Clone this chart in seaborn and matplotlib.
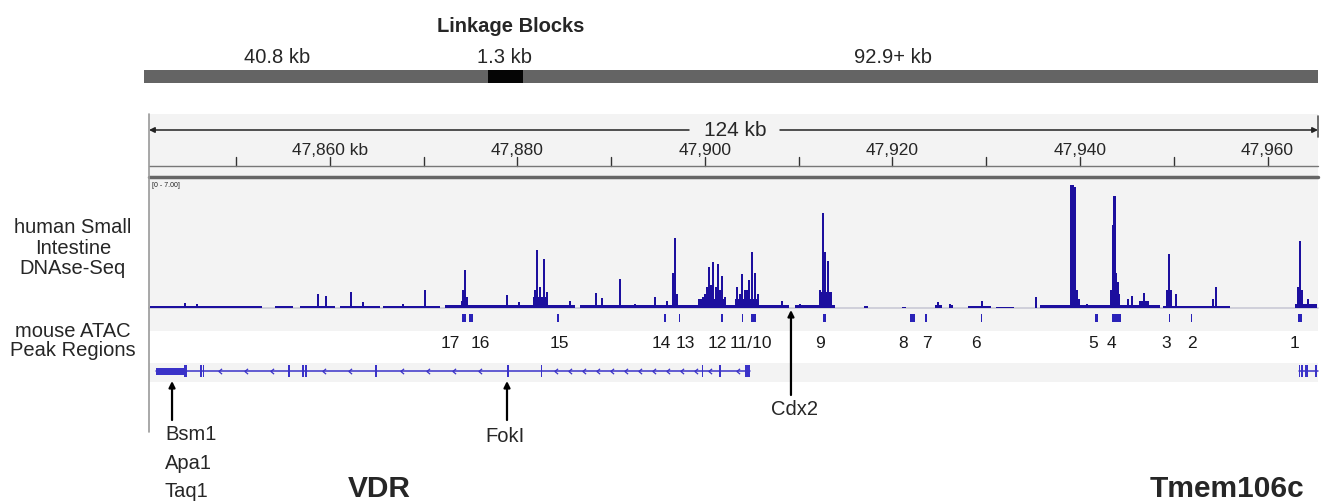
import numpy as np
import pandas as pd
import matplotlib
matplotlib.use("Agg")
import matplotlib.pyplot as plt
import seaborn as sns
from matplotlib.patches import Rectangle
from matplotlib.path import Path

# ---------------- data (genomic positions in kb) ----------------
ruler_ticks = [47850, 47860, 47870, 47880, 47890, 47900, 47910, 47920, 47930, 47940, 47950, 47960]
ruler_labeled = [47860, 47880, 47900, 47920, 47940, 47960]
ruler_labels = ["47,860 kb", "47,880", "47,900", "47,920", "47,940", "47,960"]
span_label = "124 kb"
view_start, view_end = 47840.7, 47965.4

link_start = [47840.2, 47876.85, 47880.6]
link_end = [47876.85, 47880.6, 47965.4]
link_color = ["#646464", "#050505", "#646464"]
link_labels = ["40.8 kb", "1.3 kb", "92.9+ kb"]
link_label_kb = [47854.35, 47878.6, 47920.05]

# DNase-seq signal: peak spikes
sig_kb = [47844.53, 47845.81, 47858.72, 47859.57, 47862.24, 47863.52, 47867.79, 47870.13,
          47874.19, 47874.40, 47874.61, 47878.88, 47880.16, 47881.87, 47882.08, 47882.40,
          47882.83, 47883.15, 47885.60, 47888.37, 47889.01, 47890.93, 47892.53, 47894.67,
          47895.95, 47896.59, 47896.80, 47897.01, 47899.79, 47900.00, 47900.21, 47900.43,
          47900.64, 47900.85, 47901.17, 47901.39, 47901.60, 47901.81, 47902.13, 47903.41,
          47903.73, 47903.95, 47904.27, 47904.48, 47904.69, 47905.01, 47905.33, 47905.65,
          47908.21, 47910.13, 47912.27, 47912.59, 47912.80, 47913.12, 47913.44, 47924.85,
          47926.13, 47929.55, 47935.31, 47939.04, 47939.25, 47939.47, 47939.68, 47939.89,
          47940.75, 47943.31, 47943.52, 47943.68, 47943.84, 47944.05, 47945.12, 47945.55,
          47946.40, 47946.83, 47947.25, 47949.28, 47949.49, 47949.71, 47950.24, 47954.19,
          47954.51, 47963.25, 47963.47, 47963.68, 47964.32]
sig_val = [0.25, 0.2, 0.8, 0.65, 0.9, 0.3, 0.2, 1.0,
           1.0, 2.15, 0.6, 0.7, 0.3, 1.0, 3.3, 1.2,
           2.8, 0.9, 0.4, 0.85, 0.55, 1.65, 0.2, 0.6,
           0.35, 2.0, 4.0, 0.8, 0.6, 0.8, 1.2, 2.3,
           1.3, 2.6, 1.2, 2.5, 1.0, 1.8, 0.6, 1.15,
           0.8, 1.9, 1.0, 1.0, 1.6, 3.2, 2.0, 0.8,
           0.35, 0.2, 1.0, 5.4, 3.2, 2.65, 0.8, 0.3,
           0.2, 0.35, 0.6, 7.0, 7.0, 6.9, 1.0, 0.5,
           0.2, 1.0, 4.7, 6.4, 2.0, 1.45, 0.5, 0.65,
           0.4, 0.85, 0.4, 1.0, 3.05, 1.0, 0.8, 0.5,
           1.15, 1.2, 3.8, 1.0, 0.5]
# DNase-seq signal: low background segments
base_start = [47840.8, 47854.1, 47856.8, 47861.1, 47865.6, 47872.3, 47886.7, 47909.6,
              47917.0, 47921.0, 47924.5, 47926.0, 47928.0, 47931.0, 47935.7, 47948.8,
              47962.9, 47899.3, 47903.2, 47912.3, 47939.2, 47943.2, 47881.7, 47874.0,
              47946.4, 47896.5]
base_end = [47852.7, 47856.0, 47860.5, 47865.3, 47871.7, 47886.1, 47909.0, 47913.9,
            47917.4, 47921.4, 47925.3, 47926.4, 47930.5, 47933.0, 47948.5, 47956.0,
            47965.3, 47902.2, 47905.7, 47913.5, 47940.0, 47944.3, 47883.2, 47874.7,
            47947.2, 47897.1]
base_val = [0.10, 0.07, 0.08, 0.10, 0.07, 0.12, 0.15, 0.12,
            0.07, 0.05, 0.12, 0.12, 0.10, 0.05, 0.12, 0.08,
            0.18, 0.5, 0.5, 0.9, 0.5, 0.8, 0.6, 0.4,
            0.35, 0.5]

# mouse ATAC peak regions
atac_start = [47874.1, 47874.8, 47884.25, 47895.6, 47897.2, 47901.75, 47903.9, 47904.9,
              47912.6, 47921.9, 47923.5, 47929.4, 47941.65, 47943.4, 47949.45, 47951.8, 47963.25]
atac_end = [47874.5, 47875.3, 47884.4, 47895.8, 47897.35, 47901.9, 47904.05, 47905.45,
            47912.9, 47922.35, 47923.65, 47929.55, 47941.9, 47944.4, 47949.6, 47951.95, 47963.7]
atac_labels = ["17", "16", "15", "14", "13", "12", "11/10", "9", "8", "7", "6", "5", "4", "3", "2", "1"]
atac_label_kb = [47872.8, 47876.0, 47884.5, 47895.3, 47897.9, 47901.3, 47904.9, 47912.3,
                 47921.1, 47923.7, 47928.9, 47941.4, 47943.4, 47949.2, 47951.9, 47962.9]

# genes
vdr_start, vdr_end = 47841.44, 47904.8
vdr_exon_start = [47841.44, 47844.43, 47846.18, 47846.43, 47855.56, 47857.05, 47857.37, 47864.84,
                  47878.92, 47882.49, 47899.66, 47901.54, 47904.3]
vdr_exon_end = [47844.43, 47844.75, 47846.34, 47846.59, 47855.72, 47857.21, 47857.53, 47865.0,
                47879.08, 47882.65, 47899.82, 47901.7, 47904.8]
vdr_exon_kind = ["utr", "cds", "cds", "cds", "cds", "cds", "cds", "cds",
                 "cds", "cds", "cds", "cds", "cds"]
tmem_start, tmem_end = 47963.35, 47965.35
tmem_exon_start = [47963.35, 47963.62, 47963.95, 47965.1]
tmem_exon_end = [47963.5, 47963.77, 47964.35, 47965.3]

snp_names = ["Bsm1", "FokI", "Cdx2"]
snp_kb = [47843.15, 47878.88, 47909.17]
extra_snps = ["Apa1", "Taq1"]
track_names = [["human Small", "Intestine", "DNAse-Seq"], ["mouse ATAC", "Peak Regions"]]
gene_names = ["VDR", "Tmem106c"]
signal_range_label = "[0 - 7.00]"

# ---------------- style ----------------
sns.set_theme(style="white")
plt.rcParams["font.family"] = ["Liberation Sans", "DejaVu Sans"]

W, H = 1323, 502
PX_KB = 9.375  # pixels per kb in the view


def KB(px):
    return 47860 + (px - 330) / PX_KB


NAVY = "#1c0f9e"
GENE = "#3a32c8"
BAND = "#f3f3f3"

fig = plt.figure(figsize=(W / 100, H / 100), dpi=100, facecolor="white")
ax = fig.add_axes([0, 0, 1, 1])
ax.set_xlim(KB(0), KB(W))
ax.set_ylim(H, 0)
ax.axis("off")

xl, xr = KB(149), KB(1318)

# background bands
for y0, y1, c in [(115, 332, BAND), (364, 383, BAND)]:
    ax.add_patch(Rectangle((xl, y0), xr - xl, y1 - y0, color=c, lw=0, zorder=0))

# ---- linkage blocks ----
ax.text(KB(511), 31.5, "Linkage Blocks", ha="center", va="baseline", fontsize=14.5, fontweight="bold")
for s, e, c in zip(link_start, link_end, link_color):
    ax.add_patch(Rectangle((s, 71), e - s, 13, color=c, lw=0, zorder=2))
for lab, k in zip(link_labels, link_label_kb):
    ax.text(k, 63, lab, ha="center", va="baseline", fontsize=14.5)

# ---- ruler ----
ax.text(KB(735), 136, span_label, ha="center", va="baseline", fontsize=15)
ax.annotate("", xy=(xl, 131), xytext=(KB(689), 131),
            arrowprops=dict(arrowstyle="-|>", color="#222222", lw=1.1, mutation_scale=8,
                            shrinkA=0, shrinkB=0))
ax.annotate("", xy=(xr, 131), xytext=(KB(780), 131),
            arrowprops=dict(arrowstyle="-|>", color="#222222", lw=1.1, mutation_scale=8,
                            shrinkA=0, shrinkB=0))
ax.plot([xr, xr], [117, 138], color="#555555", lw=1.2)
for t in ruler_ticks:
    ax.plot([t, t], [158, 167], color="#333333", lw=1)
for t, lab in zip(ruler_labeled, ruler_labels):
    ax.text(t, 155, lab, ha="center", va="baseline", fontsize=12.5)
ax.plot([xl, xr], [167, 167], color="#777777", lw=1)
ax.plot([xl, xr], [177.5, 177.5], color="#666666", lw=2.5)
ax.plot([xl, xl], [115, 433], color="#9a9a9a", lw=1.2)

# ---- signal track ----
ax.text(KB(152), 185.5, signal_range_label, ha="left", va="center", fontsize=5, color="#222222")
ax.plot([xl, xr], [308.5, 308.5], color="#c9c9d6", lw=1.2, zorder=1)
axs = fig.add_axes([149 / W, 1 - 308.5 / H, (1318 - 149) / W, (308.5 - 186) / H])
axs.patch.set_alpha(0)
axs.set_xlim(xl, xr)
axs.set_ylim(0, 7)
axs.axis("off")
base = pd.DataFrame({"start": base_start, "end": base_end, "val": base_val})
axs.bar(base["start"], base["val"], width=base["end"] - base["start"], align="edge",
        color=NAVY, lw=0)
sig = pd.DataFrame({"kb": sig_kb, "val": sig_val})
axs.bar(sig["kb"], sig["val"], width=0.3, color=NAVY, lw=0)

# ---- ATAC peaks ----
for s, e in zip(atac_start, atac_end):
    ax.add_patch(Rectangle((s, 315), max(e - s, 0.14), 8, color="#2a22b8", lw=0, zorder=3))
for lab, k in zip(atac_labels, atac_label_kb):
    ax.text(k, 348, lab, ha="center", va="baseline", fontsize=12.5, color="#1a1a1a")

# ---- genes ----
sns.lineplot(x=[vdr_start, vdr_end], y=[372, 372], ax=ax, color=GENE, lw=1.1)
sns.lineplot(x=[tmem_start, tmem_end], y=[372, 372], ax=ax, color=GENE, lw=1.1)
for s, e, kind in zip(vdr_exon_start, vdr_exon_end, vdr_exon_kind):
    y0, h = (369, 7) if kind == "utr" else (366, 12)
    ax.add_patch(Rectangle((s, y0), e - s, h, color=GENE, lw=0, zorder=3))
for s, e in zip(tmem_exon_start, tmem_exon_end):
    ax.add_patch(Rectangle((s, 366), e - s, 12, color=GENE, lw=0, zorder=3))

chev = Path([(0.6, 1.0), (-0.6, 0.0), (0.6, -1.0)], [Path.MOVETO, Path.LINETO, Path.LINETO])
chev_pos = list(np.arange(KB(220), KB(530), 26 / PX_KB)) + list(np.arange(KB(556), KB(740), 14 / PX_KB))
chev_pos = [c for c in chev_pos
            if min(abs(c - (s + e) / 2) for s, e in zip(vdr_exon_start, vdr_exon_end)) > 0.6]
ax.plot(chev_pos, [372] * len(chev_pos), ls="none", marker=chev, ms=3.8, mew=0.9,
        mec=GENE, mfc="none")

# ---- SNP arrows and labels ----
arrow_kw = dict(arrowstyle="-|>", color="black", lw=1.6, mutation_scale=9, shrinkA=0, shrinkB=0)
ax.annotate("", xy=(snp_kb[0], 382), xytext=(snp_kb[0], 421), arrowprops=arrow_kw)
ax.annotate("", xy=(snp_kb[1], 382), xytext=(snp_kb[1], 421), arrowprops=arrow_kw)
ax.annotate("", xy=(snp_kb[2], 311), xytext=(snp_kb[2], 396), arrowprops=arrow_kw)
ax.text(KB(165), 440, snp_names[0], ha="left", va="baseline", fontsize=14.5)
ax.text(KB(165), 469, extra_snps[0], ha="left", va="baseline", fontsize=14.5)
ax.text(KB(165), 497, extra_snps[1], ha="left", va="baseline", fontsize=14.5)
ax.text(snp_kb[1] - 0.2, 442, snp_names[1], ha="center", va="baseline", fontsize=14.5)
ax.text(snp_kb[2] + 0.4, 415, snp_names[2], ha="center", va="baseline", fontsize=14.5)

# gene names
ax.text(KB(379), 497, gene_names[0], ha="center", va="baseline", fontsize=21.5, fontweight="bold")
ax.text(KB(1227), 497, gene_names[1], ha="center", va="baseline", fontsize=21.5, fontweight="bold")

# track names
for line, yb in zip(track_names[0], [233, 254, 274]):
    ax.text(KB(73), yb, line, ha="center", va="baseline", fontsize=14.5)
for line, yb in zip(track_names[1], [337, 356]):
    ax.text(KB(73), yb, line, ha="center", va="baseline", fontsize=14.5)

fig.savefig("out.png", dpi=100, facecolor="white")
